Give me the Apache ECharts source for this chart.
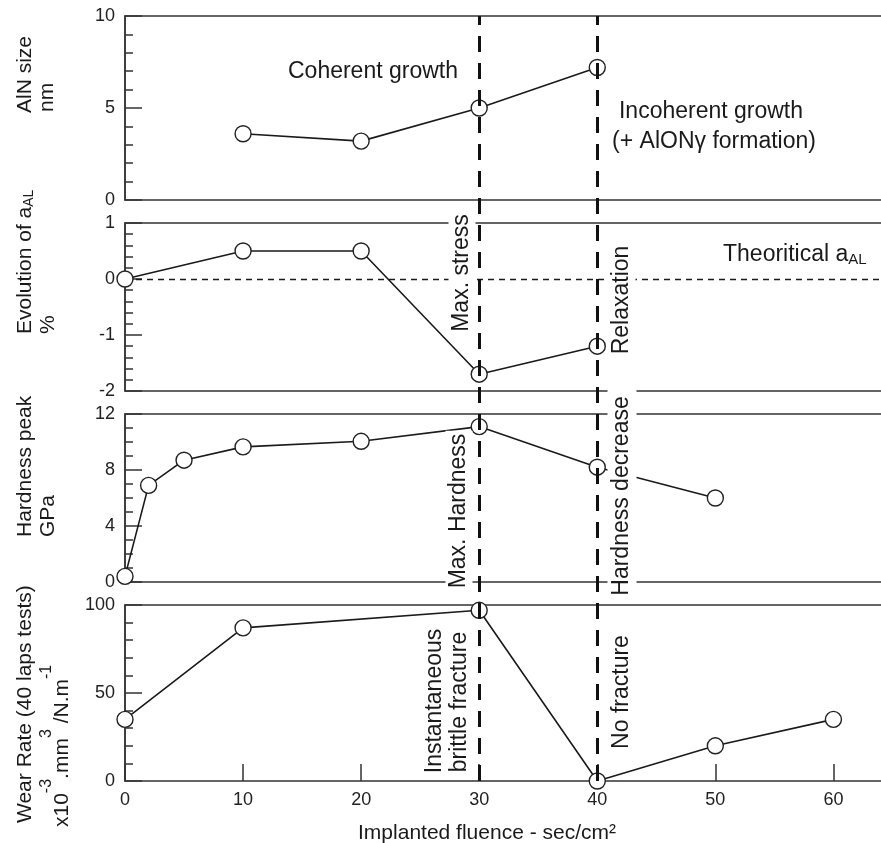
<!DOCTYPE html>
<html>
<head>
<meta charset="utf-8">
<script src="https://cdn.jsdelivr.net/npm/echarts@6/dist/echarts.min.js"></script>
<style>
html,body{margin:0;padding:0;background:#fff;}
#chart{width:881px;height:843px;}
</style>
</head>
<body>
<div id="chart"></div>
<script>
// ---- data ----
const xTicks = [0, 10, 20, 30, 40, 50, 60];
const xAlnSize = [10, 20, 30, 40];
const alnSize = [3.6, 3.2, 5.0, 7.2];
const xLattice = [0, 10, 20, 30, 40];
const lattice = [0, 0.5, 0.5, -1.7, -1.2];
const xHardness = [0, 2, 5, 10, 20, 30, 40, 50];
const hardness = [0.4, 6.9, 8.7, 9.65, 10.05, 11.1, 8.2, 6.0];
const xWear = [0, 10, 30, 40, 50, 60];
const wear = [35, 87, 97, 0, 20, 35];
const transitions = [30, 40];
const theoreticalLattice = 0;

// ---- layout / style ----
const FONT = 'Liberation Sans, Arial, Helvetica, sans-serif';
const INK = '#1a1a1a';
const AX = '#333';
const X_MAX = 64.2;
const pairs = (xs, ys) => xs.map((x, i) => [x, ys[i]]);

const gridDefs = [
  {top: 16, height: 184},
  {top: 223, height: 168},
  {top: 414, height: 168},
  {top: 605, height: 176},
  {top: 16, height: 765}
];
const grid = gridDefs.map((g, i) => ({
  left: 125, width: 758, top: g.top, height: g.height,
  show: i < 4, borderColor: AX, borderWidth: 1.5, backgroundColor: 'transparent',
  outerBoundsMode: 'none', containLabel: false
}));

const xAxis = gridDefs.map((g, i) => ({
  type: 'value', gridIndex: i, min: 0, max: X_MAX, interval: 10,
  show: i < 4,
  axisLine: {show: false},
  axisTick: {show: i === 3, inside: true, length: 17, lineStyle: {color: AX, width: 1.5}},
  axisLabel: {show: i === 3, fontSize: 18, color: '#222', fontFamily: FONT, margin: 10,
    showMaxLabel: false,
    formatter: v => (xTicks.indexOf(v) >= 0 ? String(v) : '')},
  splitLine: {show: false}
}));

const yDefs = [
  {min: 0, max: 10, interval: 5, minor: 5},
  {min: -2, max: 1, interval: 1, minor: 5},
  {min: 0, max: 12, interval: 4, minor: 4},
  {min: 0, max: 100, interval: 50, minor: 5},
  {min: 0, max: 1, interval: 1, minor: 1}
];
const yAxis = yDefs.map((d, i) => ({
  type: 'value', gridIndex: i, min: d.min, max: d.max, interval: d.interval,
  show: i < 4,
  axisLine: {show: true, lineStyle: {color: AX, width: 1.5}},
  axisTick: {show: true, inside: true, length: 17, lineStyle: {color: AX, width: 1.5}},
  minorTick: {show: true, splitNumber: d.minor, length: 8, lineStyle: {color: AX, width: 1.5}},
  axisLabel: {fontSize: 18, color: '#222', fontFamily: FONT, margin: 10},
  splitLine: {show: false}, minorSplitLine: {show: false}
}));

function dataSeries(idx, xs, ys, extra) {
  return Object.assign({
    type: 'line', xAxisIndex: idx, yAxisIndex: idx, z: 2,
    data: pairs(xs, ys),
    symbol: 'circle', symbolSize: 16, showSymbol: true,
    itemStyle: {color: '#fff', borderColor: '#222', borderWidth: 1.4},
    lineStyle: {color: INK, width: 1.6},
    emphasis: {disabled: true}, silent: true
  }, extra || {});
}

const series = [
  dataSeries(0, xAlnSize, alnSize),
  dataSeries(1, xLattice, lattice, {
    markLine: {
      silent: true, symbol: ['none', 'none'], z: 1, label: {show: false},
      lineStyle: {color: INK, width: 1.4, type: [6, 5]},
      data: [{yAxis: theoreticalLattice}]
    }
  }),
  dataSeries(2, xHardness, hardness),
  dataSeries(3, xWear, wear),
  {
    type: 'line', xAxisIndex: 4, yAxisIndex: 4, data: [], silent: true,
    markLine: {
      silent: true, symbol: ['none', 'none'], z: 5, label: {show: false},
      lineStyle: {color: '#111', width: 3, type: [16, 11]},
      data: transitions.map(v => ({xAxis: v}))
    }
  }
];

// ---- text annotations ----
function vText(text, x, y, opt) {
  opt = opt || {};
  return {
    type: 'text', x: x, y: y, rotation: Math.PI / 2, z: 100, silent: true,
    style: Object.assign({
      text: text, fontSize: 23, fontFamily: FONT, fill: INK,
      align: 'center', verticalAlign: 'middle'
    }, opt)
  };
}
function hText(text, x, y, opt) {
  return {
    type: 'text', x: x, y: y, z: 100, silent: true,
    style: Object.assign({
      text: text, fontSize: 23, fontFamily: FONT, fill: INK,
      align: 'center', verticalAlign: 'middle'
    }, opt || {})
  };
}
const bg = (across, along) => ({backgroundColor: '#fff', padding: [across, along, across, along]});

const graphic = [
  // y-axis titles
  vText('AlN size', 25.5, 113, {fontSize: 21, align: 'left'}),
  vText('nm', 47.5, 112, {fontSize: 21, align: 'left'}),
  vText('{b|Evolution of a}{sub|AL}', 25, 334, {fontSize: 21, align: 'left',
    rich: {b: {fontSize: 21, fontFamily: FONT, fill: INK, lineHeight: 22},
           sub: {fontSize: 14, fontFamily: FONT, fill: INK, lineHeight: 10, verticalAlign: 'bottom'}}}),
  vText('%', 48, 334, {fontSize: 21, align: 'left'}),
  vText('Hardness peak', 25, 537, {fontSize: 21, align: 'left'}),
  vText('GPa', 48, 537, {fontSize: 21, align: 'left'}),
  vText('Wear Rate (40 laps tests)', 25, 823, {fontSize: 21, align: 'left'}),
  vText('{b|x10}{sup|-3}{b|.mm}{sup|3}{b| /N.m}{sup|-1}{sp| }', 56, 827, {fontSize: 21, align: 'left',
    rich: {b: {fontSize: 21, fontFamily: FONT, fill: INK, lineHeight: 21, verticalAlign: 'bottom'},
           sup: {fontSize: 16, fontFamily: FONT, fill: INK, lineHeight: 16, verticalAlign: 'top'},
           sp: {fontSize: 1, lineHeight: 34}}}),
  // x-axis title
  hText('Implanted fluence - sec/cm²', 487, 833, {fontSize: 21}),
  // annotations
  hText('Coherent growth', 373, 72),
  hText('Incoherent growth', 711, 112),
  hText('(+ AlONγ formation)', 714, 142),
  hText('{b|Theoritical a}{sub|AL}', 723, 255, {align: 'left',
    rich: {b: {fontSize: 23, fontFamily: FONT, fill: INK, lineHeight: 24},
           sub: {fontSize: 15, fontFamily: FONT, fill: INK, lineHeight: 10, verticalAlign: 'bottom'}}}),
  vText('Max. stress', 462, 273, bg(2, 4)),
  vText('Relaxation', 622, 300, bg(2, 4)),
  vText('Max. Hardness', 459, 511, bg(2, 3)),
  vText('Hardness decrease', 622, 496, bg(3, 7)),
  vText('Instantaneous', 435, 701, bg(1, 3)),
  vText('brittle fracture', 460, 702, bg(1, 3)),
  vText('No fracture', 622, 692, bg(2, 3))
];

const chart = echarts.init(document.getElementById('chart'), null, {renderer: 'canvas'});
chart.setOption({
  animation: false,
  backgroundColor: '#fff',
  textStyle: {fontFamily: FONT},
  grid: grid,
  xAxis: xAxis,
  yAxis: yAxis,
  series: series,
  graphic: graphic
});
</script>
</body>
</html>
